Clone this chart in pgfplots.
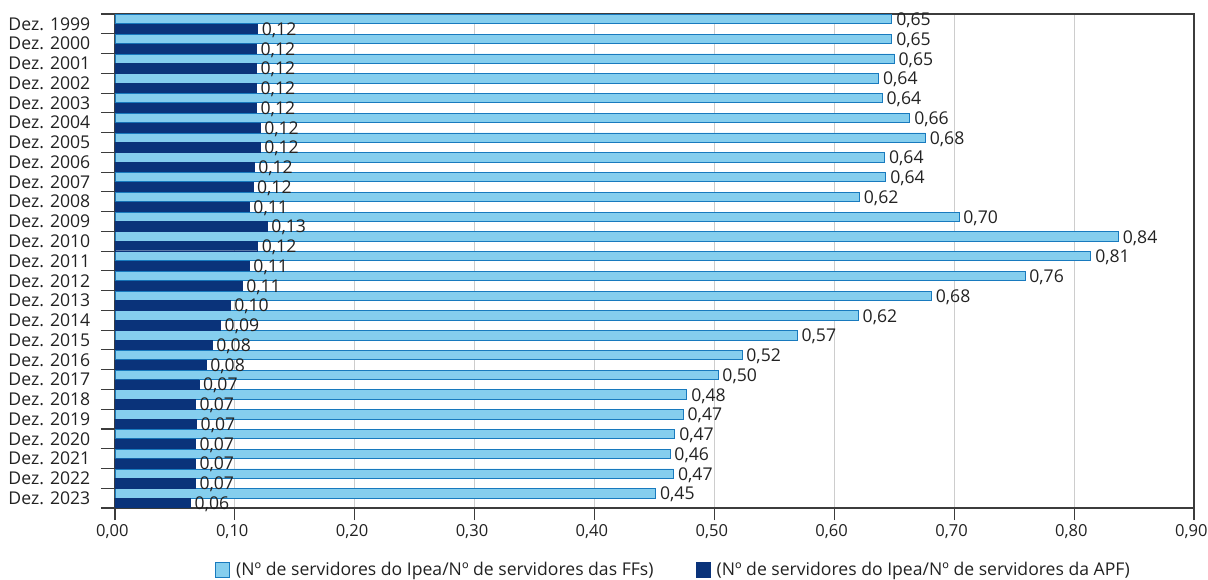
\documentclass[border=0pt]{standalone}
\usepackage{pgfplots}
\usepackage{pgfplotstable}
\pgfplotsset{compat=1.18}
\usepackage{fontspec}
\setmainfont{Open Sans}

\definecolor{ffblue}{RGB}{133,206,238}
\definecolor{ffedge}{RGB}{24,122,190}
\definecolor{apfnavy}{RGB}{10,51,122}
\definecolor{txt}{RGB}{34,34,34}
\definecolor{gridgray}{RGB}{205,205,205}
\definecolor{axisgray}{RGB}{60,60,60}

% idx 0 = Dez. 1999 ... idx 24 = Dez. 2023
% ff  = servidores do Ipea / servidores das FFs
% apf = servidores do Ipea / servidores da APF
\pgfplotstableread{
idx ff    apf
0   0.648 0.119
1   0.648 0.118
2   0.650 0.118
3   0.637 0.118
4   0.640 0.118
5   0.663 0.121
6   0.676 0.121
7   0.642 0.116
8   0.643 0.115
9   0.621 0.112
10  0.704 0.127
11  0.837 0.119
12  0.814 0.112
13  0.759 0.106
14  0.681 0.096
15  0.620 0.088
16  0.569 0.081
17  0.523 0.076
18  0.503 0.070
19  0.477 0.067
20  0.474 0.068
21  0.467 0.067
22  0.463 0.067
23  0.466 0.067
24  0.451 0.063
}\servidores

\begin{document}
\begin{tikzpicture}[font=\fontsize{13.2}{15}\selectfont, text=txt]
\useasboundingbox (-86.25pt,-53.25pt) rectangle (819.75pt,381pt);
\begin{axis}[
  at={(0pt,0pt)}, anchor=south west,
  scale only axis, width=809.25pt, height=370.5pt,
  xbar=0pt, bar width=7pt,
  xmin=0, xmax=0.9,
  ymin=-0.5, ymax=24.5, y dir=reverse,
  xtick={0,0.1,0.2,0.3,0.4,0.5,0.6,0.7,0.8,0.9},
  scaled x ticks=false,
  xticklabel style={font=\fontsize{12.4}{14}\selectfont, xshift=-2pt,
    /pgf/number format/.cd, fixed, fixed zerofill, precision=2, use comma, assume math mode=true},
  ytick={0,...,24},
  yticklabels={Dez. 1999,Dez. 2000,Dez. 2001,Dez. 2002,Dez. 2003,Dez. 2004,Dez. 2005,Dez. 2006,Dez. 2007,Dez. 2008,Dez. 2009,Dez. 2010,Dez. 2011,Dez. 2012,Dez. 2013,Dez. 2014,Dez. 2015,Dez. 2016,Dez. 2017,Dez. 2018,Dez. 2019,Dez. 2020,Dez. 2021,Dez. 2022,Dez. 2023},
  yticklabel style={xshift=-6pt},
  minor ytick={-0.5,0.5,...,24.5},
  major y tick style={draw=none},
  ytick pos=left, xtick pos=bottom,
  tick align=outside,
  major tick length=9pt, minor tick length=10.5pt,
  tick style={axisgray, line width=0.8pt},
  xmajorgrids, major grid style={gridgray, line width=0.7pt},
  axis line style={axisgray, line width=0.8pt},
  ticklabel style={text=txt},
  point meta=x,
  nodes near coords,
  nodes near coords style={anchor=west, inner xsep=3pt, inner ysep=1pt, yshift=-1pt, text=txt,
    /pgf/number format/.cd, fixed, fixed zerofill, precision=2, use comma, assume math mode=true},
  legend style={at={(0.518,-0.1255)}, anchor=center, legend columns=2, draw=none, fill=none,
    /tikz/every even column/.append style={column sep=30pt}},
  legend cell align=left,
  legend image code/.code={\draw[#1] (0pt,-5.5pt) rectangle (10.5pt,5.5pt); \path (13pt,0pt);},
]
\addplot[fill=ffblue, draw=ffedge, line width=0.6pt, bar shift=3.6pt] table[x=ff, y=idx] {\servidores};
\addlegendentry{(Nº de servidores do Ipea/Nº de servidores das FFs)}
\addplot[fill=apfnavy, draw=apfnavy, line width=0.3pt, bar shift=-3.6pt] table[x=apf, y=idx] {\servidores};
\addlegendentry{(Nº de servidores do Ipea/Nº de servidores da APF)}
\end{axis}
\end{tikzpicture}
\end{document}
